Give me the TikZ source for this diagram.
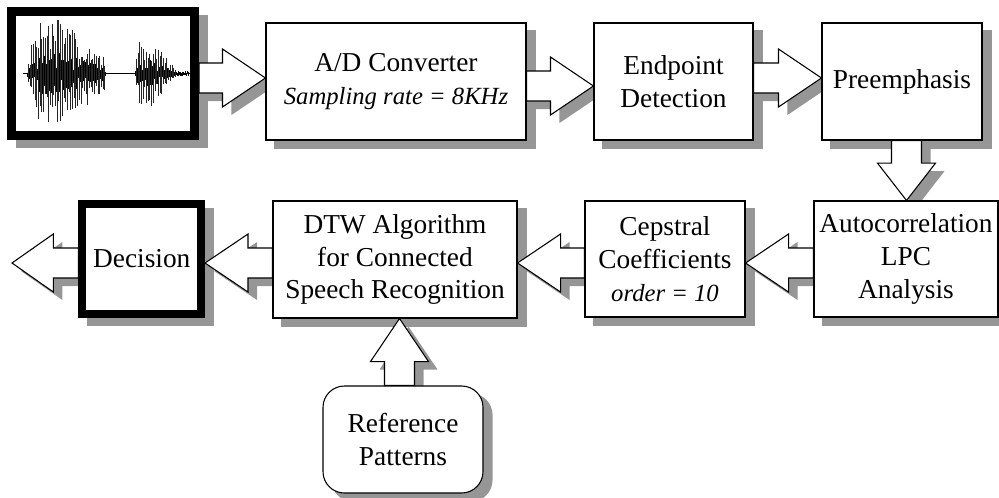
\documentclass[tikz,border=0pt]{standalone}
\usepackage{fontspec}
\setmainfont{Liberation Serif}
\usetikzlibrary{calc}
\definecolor{shad}{RGB}{150,150,150}
\pgfdeclarelayer{shadowlayer}
\pgfdeclarelayer{arrowlayer}
\pgfsetlayers{shadowlayer,arrowlayer,main}
\newcommand\smallit[1]{{\fontsize{18.5}{24.5}\selectfont\itshape #1}}
\tikzset{
  box/.style={draw, line width=0.8pt, fill=white, inner sep=0pt, align=center,
    font=\fontsize{20.5}{24.5}\selectfont},
  arrowbody/.style={draw, line width=0.8pt, fill=white, line join=miter},
  arrowshadow/.style={fill=shad},
  wavel/.style={line width=0.4pt},
  spikel/.style={line width=0.3pt, black!85},
}
% #1 style, #2 start, #3 tip, #4 shaft half width, #5 head half width, #6 head length
\newcommand\blockarr[6]{%
  \coordinate (bS) at (#2);
  \coordinate (bT) at (#3);
  \coordinate (bH) at ($(bT)!#6!(bS)$);
  \path[#1] ($(bS)!#4!90:(bT)$) -- ($(bH)!#4!90:(bT)$) -- ($(bH)!#5!90:(bT)$) -- (bT)
    -- ($(bH)!#5!-90:(bT)$) -- ($(bH)!#4!-90:(bT)$) -- ($(bS)!#4!-90:(bT)$) -- cycle;}
\newcommand\sharr[5]{%
  \begin{pgfonlayer}{shadowlayer}
  \blockarr{arrowshadow}{$(#1)+(9,8)$}{$(#2)+(9,8)$}{#3}{#4}{#5}
  \end{pgfonlayer}
  \begin{pgfonlayer}{arrowlayer}
  \blockarr{arrowbody}{#1}{#2}{#3}{#4}{#5}
  \end{pgfonlayer}}
\newcommand\boxshadow[2][0pt]{%
  \begin{pgfonlayer}{shadowlayer}
  \fill[shad, rounded corners=#1] ($(#2.north west)+(9,8)$) rectangle ($(#2.south east)+(9,8)$);
  \end{pgfonlayer}}
\begin{document}
\begin{tikzpicture}[x=0.75pt,y=-0.75pt]
\useasboundingbox (0,0) rectangle (999,497);
\coordinate (y78) at (0,78);
\coordinate (y86) at (0,86);
\coordinate (y263) at (0,263);
\coordinate (x906) at (906.5,0);
\coordinate (x399) at (399.5,0);
\coordinate (out) at (12,263);

% boxes
\node[box, line width=6.75pt, minimum width=137.25pt, minimum height=93pt] (wave) at (103,73.5) {};
\node[box, minimum width=195pt, minimum height=87.75pt] (ad) at (396,81.5)
  {A/D Converter\\\smallit{Sampling rate = 8KHz}};
\node[box, minimum width=119.25pt, minimum height=87.75pt] (ep) at (673.5,81.5)
  {Endpoint\\Detection};
\node[box, minimum width=120pt, minimum height=87.75pt] (pre) at (902,81.5)
  {Preemphasis};
\node[box, minimum width=138pt, minimum height=87pt] (auto) at (906,259)
  {Autocorrelation\\LPC\\Analysis};
\node[box, minimum width=120pt, minimum height=87pt] (cep) at (665,259)
  {Cepstral\\Coefficients\\\smallit{order = 10}};
\node[box, minimum width=183pt, minimum height=87.75pt] (dtw) at (395,259.5)
  {DTW Algorithm\\for Connected\\Speech Recognition};
\node[box, line width=6pt, minimum width=88.9pt, minimum height=82.5pt] (dec) at (141.75,259)
  {Decision};
\node[box, rounded corners=16pt, minimum width=120pt, minimum height=80.25pt] (ref) at (403,439.5)
  {Reference\\Patterns};

% box shadows
\boxshadow{wave}
\boxshadow{ad}
\boxshadow{ep}
\boxshadow{pre}
\boxshadow{auto}
\boxshadow{cep}
\boxshadow{dtw}
\boxshadow{dec}
\boxshadow[16pt]{ref}

% block arrows
\sharr{wave.east |- y78}{ad.west |- y78}{11.25pt}{21.75pt}{32.25pt}
\sharr{ad.east |- y86}{ep.west |- y86}{11.25pt}{21.75pt}{32.25pt}
\sharr{ep.east |- y78}{pre.west |- y78}{11.25pt}{21.75pt}{32.25pt}
\sharr{pre.south -| x906}{auto.north -| x906}{11.25pt}{21.75pt}{28pt}
\sharr{auto.west |- y263}{cep.east |- y263}{11.25pt}{21.75pt}{32.25pt}
\sharr{cep.west |- y263}{dtw.east |- y263}{11.25pt}{21.75pt}{32.25pt}
\sharr{dtw.west |- y263}{dec.east |- y263}{11.25pt}{21.75pt}{32.25pt}
\sharr{dec.west |- y263}{out}{11.25pt}{21.75pt}{31pt}
\sharr{ref.north -| x399}{dtw.south -| x399}{11.25pt}{21.75pt}{32.25pt}

% waveform
\pgfmathsetseed{42}
\draw[line width=0.4pt] (23,73.5) -- (190,73.5);
\foreach \x in {27,27.6,...,105.5}{
  \pgfmathsetmacro\e{54*min((\x-26)/10,1,1-0.65*(\x-60)/45)}
  \pgfmathsetmacro\u{\e*(0.08+0.3*rnd)}
  \pgfmathsetmacro\d{\e*(0.08+0.3*rnd)}
  \draw[wavel] (\x,73.5-\u) -- (\x,73.5+\d);
}
\foreach \x in {28,29.7,...,105}{
  \pgfmathsetmacro\e{54*min((\x-26)/10,1,1-0.65*(\x-60)/45)}
  \pgfmathsetmacro\u{\e*(0.35+0.65*rnd)}
  \pgfmathsetmacro\d{\e*(0.35+0.65*rnd)}
  \draw[spikel] (\x,73.5-\u) -- (\x,73.5+\d);
}
\foreach \x in {134.5,135.1,...,177}{
  \pgfmathsetmacro\e{36*min((\x-134)/5,1,1-(\x-150)/30)}
  \pgfmathsetmacro\u{\e*(0.08+0.3*rnd)}
  \pgfmathsetmacro\d{\e*(0.08+0.3*rnd)}
  \draw[wavel] (\x,73.5-\u) -- (\x,73.5+\d);
}
\foreach \x in {136,137.7,...,176}{
  \pgfmathsetmacro\e{36*min((\x-134)/5,1,1-(\x-150)/30)}
  \pgfmathsetmacro\u{\e*(0.35+0.65*rnd)}
  \pgfmathsetmacro\d{\e*(0.35+0.65*rnd)}
  \draw[spikel] (\x,73.5-\u) -- (\x,73.5+\d);
}
\foreach \x in {177,177.6,...,188}{
  \pgfmathsetmacro\u{2.5*rnd}
  \pgfmathsetmacro\d{2.5*rnd}
  \draw[wavel] (\x,73.5-\u) -- (\x,73.5+\d);
}
\end{tikzpicture}
\end{document}
